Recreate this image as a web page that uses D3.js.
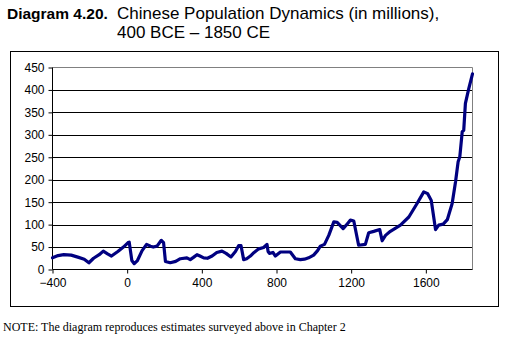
<!DOCTYPE html>
<html><head><meta charset="utf-8">
<script src="https://cdn.jsdelivr.net/npm/d3@7"></script>
<style>
html,body{margin:0;padding:0;background:#fff;}
svg{display:block;}
</style></head>
<body>
<svg id="c" width="506" height="343"></svg>
<script>
const years = [-400,-370,-340,-300,-260,-230,-205,-180,-150,-128,-105,-84,-50,-20,5,11,25,38,55,80,104,125,140,160,183,195,205,231,260,285,320,338,355,374,390,410,430,455,480,508,530,556,580,597,610,624,640,660,680,705,731,749,755,762,781,794,821,874,901,928,950,972,999,1020,1035,1057,1080,1107,1125,1157,1180,1196,1214,1240,1276,1294,1321,1353,1366,1384,1410,1464,1509,1553,1589,1610,1629,1652,1669,1693,1715,1741,1759,1773,1782,1795,1803,1812,1830,1850];
const population = [26,31,33,32,27,23,15,25,33,41,35,30,40,50,60,61,20,13,20,42,56,52,50,52,65,60,18,15,18,24,26,22,27,33,30,26,25,30,38,41,36,28,40,53,53,22,24,30,38,46,49,56,40,36,38,30,39,39,24,22,23,26,32,42,52,56,76,106,105,91,102,110,108,54,56,82,85,89,64,76,85,99,117,147,173,169,154,89,99,101,111,147,195,240,251,307,310,370,403,436];
const xTicks = [-400,0,400,800,1200,1600];
const yTicks = [0,50,100,150,200,250,300,350,400,450];

const svg = d3.select("#c");
const L=52.5, R=472.5, T=67.5, B=269.5;
const x = d3.scaleLinear().domain([-400,1850]).range([L,R]);
const y = d3.scaleLinear().domain([0,450]).range([B,T]);

// outer frame
svg.append("rect").attr("x",10.5).attr("y",51.5).attr("width",488).attr("height",255)
  .attr("fill","none").attr("stroke","#000").attr("stroke-width",1);

// title
const t = svg.append("text").attr("x",7).attr("y",19).attr("font-family","Liberation Sans, Arial, sans-serif").attr("fill","#000");
t.append("tspan").attr("font-weight","bold").attr("font-size","15.5px").text("Diagram 4.20.");
svg.append("text").attr("x",117).attr("y",19).attr("font-family","Liberation Sans, Arial, sans-serif").attr("font-size","17px").text("Chinese Population Dynamics (in millions),");
svg.append("text").attr("x",117).attr("y",38).attr("font-family","Liberation Sans, Arial, sans-serif").attr("font-size","17px").text("400 BCE \u2013 1850 CE");

// gridlines
svg.append("g").selectAll("line").data(yTicks.filter(v=>v>0 && v<450)).join("line")
  .attr("x1",L).attr("x2",R).attr("y1",d=>Math.round(y(d))+0.5).attr("y2",d=>Math.round(y(d))+0.5)
  .attr("stroke","#000").attr("stroke-width",1);

// plot border top/right gray
svg.append("path").attr("d",`M${L},${T}H${R}V${B}`).attr("fill","none").attr("stroke","#808080").attr("stroke-width",1);

// axes
const yAxis = d3.axisLeft(y).tickValues(yTicks).tickSize(4).tickPadding(4);
const gy = svg.append("g").attr("transform",`translate(${L},0)`).call(yAxis);
const xAxis = d3.axisBottom(x).tickValues(xTicks).tickSize(4).tickPadding(5).tickFormat(d3.format("d"));
const gx = svg.append("g").attr("transform",`translate(0,${B})`).call(xAxis);
[gx,gy].forEach(g=>{
  g.select(".domain").attr("stroke","#000");
  g.selectAll(".tick line").attr("stroke","#000");
  g.selectAll("text").attr("font-family","Liberation Sans, Arial, sans-serif").attr("font-size","12px").attr("fill","#000");
});
gx.select(".domain").attr("d",`M${L},0H${R}`);
gy.select(".domain").attr("d",`M0,${T}V${B}`);

// line
const pts = years.map((yr,i)=>[yr,population[i]]);
svg.append("path").datum(pts)
  .attr("d",d3.line().x(d=>x(d[0])).y(d=>y(d[1])).curve(d3.curveLinear))
  .attr("fill","none").attr("stroke","#000080").attr("stroke-width",3.2)
  .attr("stroke-linejoin","round").attr("stroke-linecap","round");

// note
svg.append("text").attr("x",3).attr("y",331).attr("font-family","Liberation Serif, Times New Roman, serif")
  .attr("font-size","12px").text("NOTE: The diagram reproduces estimates surveyed above in Chapter 2");
</script>
</body></html>
